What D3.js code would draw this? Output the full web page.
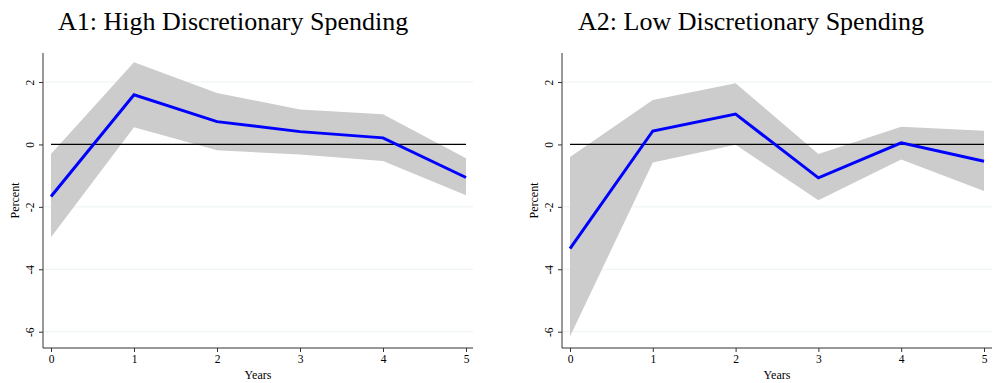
<!DOCTYPE html>
<html>
<head>
<meta charset="utf-8">
<script src="https://cdn.jsdelivr.net/npm/d3@7"></script>
<style>
  html, body { margin: 0; padding: 0; background: #fff; }
  svg { display: block; }
  text { font-family: "Liberation Serif", "DejaVu Serif", serif; fill: #000; }
</style>
</head>
<body>
<svg id="chart" width="1006" height="383"></svg>
<script>
// Horizon in years
const years = [0, 1, 2, 3, 4, 5];
const yTicks = [2, 0, -2, -4, -6];

// Panel A1: high discretionary spending
const highEstimate = [-1.67, 1.59, 0.73, 0.41, 0.21, -1.06];
const highUpper    = [-0.31, 2.63, 1.65, 1.12, 0.97, -0.44];
const highLower    = [-2.97, 0.55, -0.19, -0.32, -0.53, -1.63];

// Panel A2: low discretionary spending
const lowEstimate = [-3.34, 0.43, 0.97, -1.07, 0.05, -0.54];
const lowUpper    = [-0.40, 1.42, 1.96, -0.31, 0.57, 0.44];
const lowLower    = [-6.15, -0.58, -0.01, -1.79, -0.48, -1.49];

const titles = ["A1: High Discretionary Spending", "A2: Low Discretionary Spending"];

const svg = d3.select("#chart");

const panels = [
  { title: titles[0], est: highEstimate, up: highUpper, lo: highLower,
    axisX: 43, x0: 51, x5: 466, xEnd: 473, titleX: 58 },
  { title: titles[1], est: lowEstimate, up: lowUpper, lo: lowLower,
    axisX: 562, x0: 570, x5: 984, xEnd: 992, titleX: 578 }
];

const plotTop = 53, plotBottom = 348;

panels.forEach(p => {
  const g = svg.append("g");
  const x = d3.scaleLinear().domain([0, 5]).range([p.x0, p.x5]);
  const y = d3.scaleLinear().domain([2, -6]).range([82, 331.7]);

  // title
  g.append("text")
    .attr("x", p.titleX).attr("y", 30)
    .style("font-size", "26px")
    .text(p.title);

  // horizontal grid lines
  g.selectAll("line.grid").data(yTicks.filter(d => d !== 0)).join("line")
    .attr("class", "grid")
    .attr("x1", p.axisX + 1).attr("x2", p.xEnd)
    .attr("y1", d => y(d)).attr("y2", d => y(d))
    .attr("stroke", "#eaf2f3").attr("stroke-width", 1);

  // confidence band
  const band = years.map((yr, i) => ({ yr, up: p.up[i], lo: p.lo[i] }));
  g.append("path")
    .datum(band)
    .attr("d", d3.area().x(d => x(d.yr)).y0(d => y(d.lo)).y1(d => y(d.up)))
    .attr("fill", "#cccccc");

  // zero reference line
  g.append("line")
    .attr("x1", x(0)).attr("x2", x(5))
    .attr("y1", y(0)).attr("y2", y(0))
    .attr("stroke", "#000").attr("stroke-width", 1.2);

  // point estimate
  g.append("path")
    .datum(years.map((yr, i) => ({ yr, v: p.est[i] })))
    .attr("d", d3.line().x(d => x(d.yr)).y(d => y(d.v)))
    .attr("fill", "none")
    .attr("stroke", "#0000ff")
    .attr("stroke-width", 3)
    .attr("stroke-linejoin", "miter");

  // y axis
  const yAxis = d3.axisLeft(y).tickValues(yTicks).tickSize(4).tickPadding(6)
    .tickFormat(d => String(d));
  const ya = g.append("g").attr("transform", `translate(${p.axisX},0)`).call(yAxis);
  ya.select(".domain").attr("d", `M0,${plotTop}V${plotBottom}`).attr("stroke", "#333");
  ya.selectAll(".tick line").attr("stroke", "#333");
  ya.selectAll(".tick text")
    .attr("x", 0).attr("dy", null)
    .attr("transform", "translate(-13,0) rotate(-90)")
    .attr("text-anchor", "middle")
    .attr("dominant-baseline", "central")
    .style("font-size", "11.5px");

  // x axis
  const xAxis = d3.axisBottom(x).tickValues(years).tickSize(4).tickPadding(3)
    .tickFormat(d => String(d));
  const xa = g.append("g").attr("transform", `translate(0,${plotBottom})`).call(xAxis);
  xa.select(".domain").attr("d", `M${p.axisX},0H${p.xEnd}`).attr("stroke", "#333");
  xa.selectAll(".tick line").attr("stroke", "#333");
  xa.selectAll(".tick text").style("font-size", "11.5px");

  // axis titles
  g.append("text")
    .attr("x", (p.axisX + p.xEnd) / 2).attr("y", 379)
    .attr("text-anchor", "middle")
    .style("font-size", "12px")
    .text("Years");
  g.append("text")
    .attr("transform", `translate(${p.axisX - 28},${(plotTop + plotBottom) / 2}) rotate(-90)`)
    .attr("text-anchor", "middle")
    .attr("dominant-baseline", "central")
    .style("font-size", "12px")
    .text("Percent");
});
</script>
</body>
</html>
